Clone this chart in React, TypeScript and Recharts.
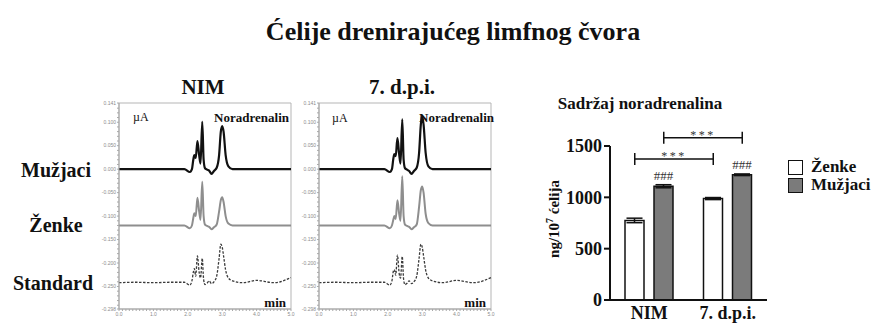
import React from 'react';
import {
  LineChart, Line, XAxis, YAxis, ReferenceArea,
  BarChart, Bar, ErrorBar, LabelList, ReferenceLine, Legend,
} from 'recharts';

const SERIF = "'Liberation Serif', 'Times New Roman', Times, 'DejaVu Serif', 'Noto Serif', serif";

// chromatograms: retention time (min) of the sampled points
const times = [0, 0.5, 1.0, 1.5, 1.9, 2.06, 2.12, 2.16, 2.19, 2.23, 2.28, 2.33, 2.37, 2.42, 2.46, 2.5, 2.56, 2.62, 2.69, 2.76, 2.84, 2.91, 2.96, 3.0, 3.04, 3.1, 3.18, 3.3, 3.6, 4.0, 4.5, 5.0];

// signal in µA, NIM
const nimMale = [0, 0, 0, 0, 0, -0.006, 0, 0.02, 0.03, 0.024, 0.06, 0.03, 0.012, 0.101, 0.02, 0.002, -0.001, -0.003, -0.01, -0.004, 0.003, 0.03, 0.08, 0.092, 0.08, 0.03, 0.006, 0, 0, 0, 0, 0];
const nimFemale = [-0.12, -0.12, -0.12, -0.12, -0.12, -0.126, -0.12, -0.104, -0.094, -0.1, -0.061, -0.09, -0.108, -0.027, -0.1, -0.118, -0.121, -0.123, -0.128, -0.124, -0.118, -0.09, -0.066, -0.06, -0.07, -0.1, -0.116, -0.12, -0.12, -0.12, -0.12, -0.12];
const nimStandard = [-0.242, -0.241, -0.242, -0.241, -0.241, -0.247, -0.238, -0.22, -0.212, -0.228, -0.185, -0.22, -0.232, -0.19, -0.235, -0.246, -0.243, -0.238, -0.244, -0.24, -0.228, -0.19, -0.16, -0.166, -0.185, -0.215, -0.232, -0.238, -0.242, -0.237, -0.242, -0.231];

// signal in µA, 7. d.p.i.
const dpiMale = [0, 0, 0, 0, 0, -0.006, 0, 0.022, 0.032, 0.028, 0.066, 0.032, 0.012, 0.106, 0.02, 0.002, -0.001, -0.004, -0.01, -0.004, 0.003, 0.035, 0.095, 0.113, 0.095, 0.035, 0.006, 0, 0, 0, 0, 0];
const dpiFemale = [-0.12, -0.12, -0.12, -0.12, -0.12, -0.126, -0.12, -0.108, -0.1, -0.106, -0.066, -0.095, -0.11, -0.015, -0.1, -0.118, -0.121, -0.123, -0.128, -0.124, -0.118, -0.08, -0.045, -0.037, -0.05, -0.095, -0.115, -0.12, -0.12, -0.12, -0.12, -0.12];
const dpiStandard = [-0.242, -0.241, -0.242, -0.241, -0.241, -0.247, -0.238, -0.218, -0.214, -0.226, -0.183, -0.222, -0.232, -0.186, -0.235, -0.246, -0.243, -0.238, -0.244, -0.24, -0.228, -0.19, -0.16, -0.166, -0.185, -0.215, -0.232, -0.238, -0.242, -0.237, -0.242, -0.231];

const panelTitles = ['NIM', '7. d.p.i.'];
const rowLabels = ['Mužjaci', 'Ženke', 'Standard'];

const yMajor = [-0.298, -0.25, -0.2, -0.15, -0.1, -0.05, 0, 0.05, 0.1, 0.141];
const xMajor = [0, 1, 2, 3, 4, 5];

// bar chart
const groups = ['NIM', '7. d.p.i.'];
const femaleMean = [775, 988];
const femaleSem = [22, 10];
const maleMean = [1108, 1220];
const maleSem = [15, 8];
const maleMarks = ['###', '###'];
const barTicks = [0, 500, 1000, 1500];
const legendOrder = ['Ženke', 'Mužjaci'];
const brackets = [
  { series: 'female', level: 1374, text: '***' },
  { series: 'male', level: 1581, text: '***' },
];

const Y_MIN = yMajor[0];
const Y_MAX = yMajor[yMajor.length - 1];
const isMajor = (list: number[], v: number) => list.some(m => Math.abs(m - v) < 1e-6);
const yTicks = [
  ...yMajor,
  ...Array.from({ length: 44 }, (_, i) => (i - 29) / 100).filter(v => !yMajor.some(m => Math.abs(m - v) < 0.004)),
].sort((a, b) => a - b);
const xTicks = [
  ...xMajor,
  ...Array.from({ length: 51 }, (_, i) => i / 10).filter(v => !xMajor.some(m => Math.abs(m - v) < 0.01)),
].sort((a, b) => a - b);

const BAR_SIZE = 19;
const BAR_GAP = 10;
const BAR_W = 360;
const BAR_H = 235;
const BAR_MARGIN = { top: 56, right: 113, bottom: 2, left: 0 };
const BAR_XAXIS_H = 23;

type TxtProps = { x: number; y: number; size: number; bold?: boolean; align?: 'left' | 'center' | 'right'; children: React.ReactNode };
const Txt = ({ x, y, size, bold = true, align = 'center', children }: TxtProps) => {
  const tx = align === 'left' ? '0' : align === 'right' ? '-100%' : '-50%';
  return (
    <div style={{ position: 'absolute', left: x, top: y, transform: `translate(${tx}, -50%)`, fontFamily: SERIF, fontSize: size, fontWeight: bold ? 700 : 400, lineHeight: 1, whiteSpace: 'nowrap', color: '#111' }}>
      {children}
    </div>
  );
};

const tickStyle = { fontSize: 5, fill: '#8c8c8c', fontFamily: "'Liberation Sans', Arial, sans-serif" };

function Chromatogram({ male, female, standard }: { male: number[]; female: number[]; standard: number[] }) {
  const data = times.map((t, i) => ({ t, male: male[i], female: female[i], standard: standard[i] }));
  return (
    <LineChart width={210} height={235} data={data} margin={{ top: 13, right: 9, bottom: 4, left: 0 }}>
      <ReferenceArea x1={0} x2={5} y1={Y_MIN} y2={Y_MAX} fill="none" stroke="#b5b5b5" strokeWidth={1} />
      <XAxis
        type="number" dataKey="t" domain={[0, 5]} ticks={xTicks} interval={0} height={12}
        tickSize={2} tickMargin={1} stroke="#a8a8a8" tick={tickStyle}
        tickFormatter={(v: number) => (isMajor(xMajor, v) ? v.toFixed(1) : '')}
      />
      <YAxis
        type="number" domain={[Y_MIN, Y_MAX]} allowDataOverflow ticks={yTicks} interval={0} width={29}
        tickSize={2} tickMargin={1} stroke="#a8a8a8" tick={tickStyle}
        tickFormatter={(v: number) => (isMajor(yMajor, v) ? v.toFixed(3) : '')}
      />
      <Line type="monotone" dataKey="standard" stroke="#3a3a3a" strokeWidth={1.3} strokeDasharray="2.5 1.5" dot={false} isAnimationActive={false} />
      <Line type="monotone" dataKey="female" stroke="#8e8e8e" strokeWidth={2} dot={false} isAnimationActive={false} />
      <Line type="monotone" dataKey="male" stroke="#111" strokeWidth={2.2} dot={false} isAnimationActive={false} />
    </LineChart>
  );
}

const MarkLabel = (props: any) => {
  const { x, y, width, value } = props;
  return (
    <text x={x + width / 2} y={y - 6} textAnchor="middle" fontSize={13} fill="#333" fontFamily={SERIF}>{value}</text>
  );
};

const YLabel = () => {
  // centred a little above the middle of the plot, as in the original
  const plotH = BAR_H - BAR_MARGIN.top - BAR_MARGIN.bottom - BAR_XAXIS_H;
  const cx = BAR_MARGIN.left + 34;
  const cy = BAR_MARGIN.top + plotH / 2 - 4;
  return (
    <text x={cx} y={cy} transform={`rotate(-90 ${cx} ${cy})`} textAnchor="middle" dominantBaseline="central" fontFamily={SERIF} fontWeight={700} fontSize={15} fill="#111">
      ng/10<tspan dy={-5} fontSize={10}>7</tspan><tspan dy={5}> ćelija</tspan>
    </text>
  );
};

const LegendBox = (props: any) => {
  const items = [...(props.payload || [])].sort((a: any, b: any) => legendOrder.indexOf(a.value) - legendOrder.indexOf(b.value));
  return (
    <div style={{ fontFamily: SERIF, fontWeight: 700, fontSize: 17, color: '#111' }}>
      {items.map((e: any) => (
        <div key={e.value} style={{ display: 'flex', alignItems: 'center', height: 18 }}>
          <span style={{ width: 13, height: 13, border: '1.5px solid #111', background: e.color, marginRight: 8 }} />
          <span>{e.value}</span>
        </div>
      ))}
    </div>
  );
};

function ContentChart() {
  const data = groups.map((g, i) => ({
    group: g, female: femaleMean[i], femaleErr: femaleSem[i], male: maleMean[i], maleErr: maleSem[i], mark: maleMarks[i],
  }));
  const shift = (BAR_SIZE + BAR_GAP) / 2;
  return (
    <BarChart width={BAR_W} height={BAR_H} data={data} margin={BAR_MARGIN} barSize={BAR_SIZE} barGap={BAR_GAP}>
      <XAxis
        dataKey="group" tickLine={false} tickSize={0} tickMargin={6} height={BAR_XAXIS_H}
        axisLine={{ stroke: '#111', strokeWidth: 2 }}
        tick={{ fontSize: 18, fontWeight: 700, fill: '#111', fontFamily: SERIF }}
      />
      <YAxis
        domain={[0, 1500]} ticks={barTicks} interval={0} width={90} allowDataOverflow
        axisLine={{ stroke: '#111', strokeWidth: 2 }} tickLine={{ stroke: '#111', strokeWidth: 2 }}
        tickSize={6} tickMargin={2}
        tick={{ fontSize: 18, fontWeight: 700, fill: '#111', fontFamily: SERIF }}
        label={{ content: YLabel }}
      />
      <Legend layout="horizontal" verticalAlign="middle" align="center" wrapperStyle={{ left: 268, top: 68, width: 90 }} content={LegendBox} />
      <Bar dataKey="female" name="Ženke" fill="#ffffff" stroke="#111" strokeWidth={1.5} isAnimationActive={false}>
        <ErrorBar dataKey="femaleErr" width={8} stroke="#111" strokeWidth={1.5} />
      </Bar>
      <Bar dataKey="male" name="Mužjaci" fill="#7b7b7b" stroke="#111" strokeWidth={1.5} isAnimationActive={false}>
        <ErrorBar dataKey="maleErr" width={8} stroke="#111" strokeWidth={1.5} />
        <LabelList dataKey="mark" content={MarkLabel} />
      </Bar>
      {brackets.map(b => (
        <ReferenceLine
          key={b.series}
          segment={[{ x: groups[0], y: b.level }, { x: groups[1], y: b.level }]}
          ifOverflow="visible"
          shape={(p: any) => {
            const d = b.series === 'female' ? -shift : shift;
            const a = p.x1 + d;
            const c = p.x2 + d;
            const y = p.y1;
            return (
              <g>
                <path d={`M${a},${y - 6}V${y + 6}M${a},${y}H${c}M${c},${y - 6}V${y + 6}`} stroke="#111" strokeWidth={1.5} fill="none" />
                <text x={(a + c) / 2} y={y + 1} textAnchor="middle" fontSize={12} letterSpacing={2.5} fill="#333" fontFamily={SERIF}>{b.text}</text>
              </g>
            );
          }}
        />
      ))}
    </BarChart>
  );
}

export default function App() {
  return (
    <div style={{ position: 'absolute', left: 0, top: 0, width: 880, height: 325, background: '#fff', fontFamily: SERIF, overflow: 'hidden' }}>
      <Txt x={453} y={32} size={26}>Ćelije drenirajućeg limfnog čvora</Txt>

      <Txt x={203} y={87} size={21}>{panelTitles[0]}</Txt>
      <Txt x={402} y={87} size={21}>{panelTitles[1]}</Txt>

      <Txt x={56} y={170} size={20}>{rowLabels[0]}</Txt>
      <Txt x={56} y={225} size={20}>{rowLabels[1]}</Txt>
      <Txt x={53} y={283} size={20}>{rowLabels[2]}</Txt>

      <div style={{ position: 'absolute', left: 90, top: 90 }}>
        <Chromatogram male={nimMale} female={nimFemale} standard={nimStandard} />
      </div>
      <div style={{ position: 'absolute', left: 290, top: 90 }}>
        <Chromatogram male={dpiMale} female={dpiFemale} standard={dpiStandard} />
      </div>

      <Txt x={133} y={117} size={12} bold={false} align="left">µA</Txt>
      <Txt x={289} y={117} size={13} align="right">Noradrenalin</Txt>
      <Txt x={286} y={302} size={13} align="right">min</Txt>
      <Txt x={332} y={118} size={12} bold={false} align="left">µA</Txt>
      <Txt x={494} y={117} size={13} align="right">Noradrenalin</Txt>
      <Txt x={486} y={302} size={13} align="right">min</Txt>

      <Txt x={640} y={103} size={17}>Sadržaj noradrenalina</Txt>
      <div style={{ position: 'absolute', left: 520, top: 90 }}>
        <ContentChart />
      </div>
    </div>
  );
}
